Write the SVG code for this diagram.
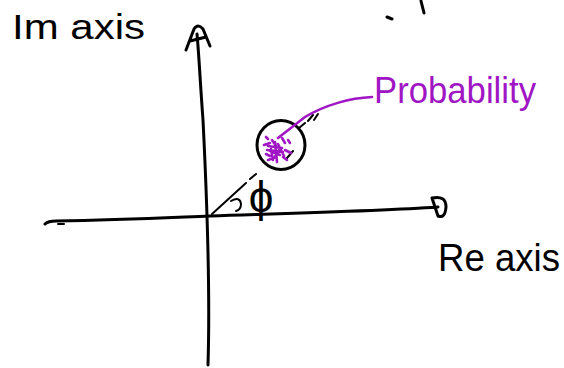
<svg xmlns="http://www.w3.org/2000/svg" width="564" height="368" viewBox="0 0 564 368">
<style>
.ink{fill:none;stroke:#000;stroke-width:3;stroke-linecap:round;stroke-linejoin:round}
.thin{fill:none;stroke:#000;stroke-width:2;stroke-linecap:round}
.pur{fill:none;stroke:#a016c4;stroke-width:2.6;stroke-linecap:round;stroke-linejoin:round}
.lbl{font-family:"Liberation Sans","DejaVu Sans",sans-serif;fill:#000}
.plbl{font-family:"Liberation Sans","DejaVu Sans",sans-serif;fill:#a016c4}
</style>
<rect width="564" height="368" fill="#fff"/>
<g id="connectors">
  <path class="ink" d="M208,365 C210,300 207,200 203,120 C200,80 199,55 197,34"/>
  <path class="ink" d="M186,50 L194,29 Q198,23 203,29 L210,46 M190,41 L206,37"/>
  <path class="ink" d="M45,224 Q48,221 56,221 C120,220 160,218 210,216 C300,213 380,211 438,207"/>
  <path class="thin" d="M58,224 L64,224"/>
  <path class="ink" d="M432,198 Q446,195 446,207 Q445,219 438,216 L432,198"/>
  <path class="thin" d="M212,214 L246,183 M250,179 L256,174 M287,158 L293,151 M299,128 L305,123 M308,121 L313,115 M314,120 L318,114"/>
  <path class="thin" d="M231,201 Q240,196 241,204 Q241,210 236,211"/>
  <path class="ink" d="M421,1 L424,13 M387,17 L392,19"/>
</g>
<g id="circle">
  <ellipse class="ink" cx="281" cy="145" rx="24" ry="24.5" stroke-width="3.6"/>
  <path class="pur" d="M266,137 L268,139 M272,140 L276,146 M268,146 L282,148 M267,150 L283,152 M270,151 L280,155 M275,142 L277,162 M266,154 L270,156 M268,160 L274,158 M282,138 L285,143 M285,150 L291,153 M283,157 L287,160 M288,140 L290,143 M271,149 L273,160 M279,150 L275,157 M264,145 L270,143 M278,144 L284,156"/>
</g>
<g id="probability-label">
  <path class="pur" d="M372,97 C350,98 325,105 305,117 L278,138"/>
  <text class="plbl" x="374" y="103" font-size="37" textLength="162" lengthAdjust="spacingAndGlyphs">Probability</text>
</g>
<g id="im-label"><text class="lbl" x="12" y="39" font-size="35" textLength="133" lengthAdjust="spacingAndGlyphs">Im axis</text></g>
<g id="re-label"><text class="lbl" x="438" y="271" font-size="38" textLength="122" lengthAdjust="spacingAndGlyphs">Re axis</text></g>
<g id="phi-label"><text class="lbl" x="261" y="212" font-size="44" text-anchor="middle">ϕ</text></g>
</svg>
